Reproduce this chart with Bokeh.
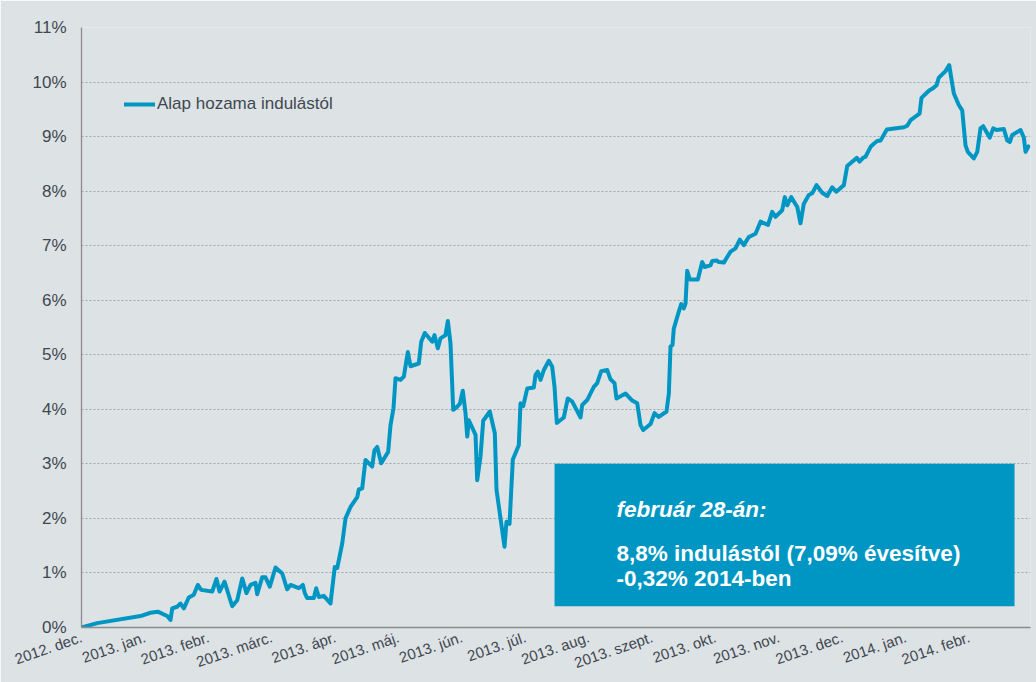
from bokeh.plotting import figure
from bokeh.models import Range1d, FixedTicker, BoxAnnotation, Label, Legend, LegendItem
from bokeh.embed import file_html
from bokeh.resources import INLINE

# ---------------- data ----------------
month_labels = ["2012. dec.", "2013. jan.", "2013. febr.", "2013. márc.", "2013. ápr.",
                "2013. máj.", "2013. jún.", "2013. júl.", "2013. aug.", "2013. szept.",
                "2013. okt.", "2013. nov.", "2013. dec.", "2014. jan.", "2014. febr."]

y_ticks = list(range(0, 12))

# months elapsed since the start (2012. dec.)
t_month = [0.0, 0.248, 0.931, 1.088, 1.203, 1.352, 1.404, 1.431, 1.509, 1.562,
           1.614, 1.692, 1.771, 1.834, 1.888, 2.062, 2.129, 2.177, 2.256, 2.377,
           2.456, 2.535, 2.602, 2.666, 2.744, 2.771, 2.850, 2.902, 2.970, 3.060,
           3.166, 3.244, 3.297, 3.427, 3.491, 3.522, 3.560, 3.664, 3.702, 3.743,
           3.822, 3.927, 3.995, 4.033, 4.112, 4.164, 4.243, 4.349, 4.374, 4.427,
           4.479, 4.585, 4.621, 4.664, 4.727, 4.837, 4.874, 4.921, 4.953, 5.032,
           5.084, 5.147, 5.189, 5.320, 5.358, 5.415, 5.532, 5.568, 5.620, 5.662,
           5.741, 5.778, 5.820, 5.863, 5.926, 5.967, 6.014, 6.057, 6.084, 6.109,
           6.215, 6.241, 6.293, 6.336, 6.440, 6.519, 6.546, 6.598, 6.672, 6.703,
           6.751, 6.803, 6.897, 6.924, 6.967, 7.030, 7.134, 7.161, 7.197, 7.240,
           7.292, 7.371, 7.424, 7.461, 7.497, 7.607, 7.670, 7.740, 7.871, 7.897,
           7.976, 8.080, 8.134, 8.197, 8.292, 8.344, 8.407, 8.438, 8.580, 8.686,
           8.765, 8.817, 8.860, 8.975, 9.038, 9.106, 9.227, 9.264, 9.290, 9.322,
           9.342, 9.421, 9.459, 9.500, 9.527, 9.553, 9.595, 9.721, 9.790, 9.826,
           9.921, 9.948, 10.016, 10.052, 10.131, 10.194, 10.237, 10.315, 10.383, 10.446,
           10.525, 10.631, 10.710, 10.828, 10.894, 10.946, 11.052, 11.093, 11.131, 11.194,
           11.289, 11.340, 11.393, 11.471, 11.525, 11.593, 11.683, 11.762, 11.840, 11.904,
           12.024, 12.077, 12.156, 12.229, 12.271, 12.334, 12.366, 12.450, 12.497, 12.550,
           12.603, 12.702, 12.970, 13.024, 13.076, 13.218, 13.249, 13.364, 13.423, 13.486,
           13.522, 13.628, 13.686, 13.733, 13.759, 13.837, 13.891, 13.943, 13.979, 14.074,
           14.128, 14.179, 14.222, 14.326, 14.380, 14.432, 14.547, 14.601, 14.642, 14.680,
           14.811, 14.863, 14.890, 14.937]

# cumulative return since launch, %
return_pct = [0.00, 0.08, 0.21, 0.27, 0.29, 0.21, 0.14, 0.35, 0.38, 0.44,
              0.35, 0.55, 0.60, 0.78, 0.69, 0.66, 0.89, 0.66, 0.84, 0.39,
              0.50, 0.90, 0.63, 0.78, 0.82, 0.61, 0.92, 0.92, 0.75, 1.10,
              0.99, 0.70, 0.78, 0.72, 0.78, 0.63, 0.54, 0.54, 0.72, 0.56,
              0.58, 0.44, 1.11, 1.09, 1.54, 2.00, 2.21, 2.39, 2.53, 2.55,
              3.07, 2.95, 3.25, 3.31, 3.01, 3.22, 3.71, 4.02, 4.57, 4.54,
              4.60, 5.05, 4.79, 4.84, 5.24, 5.40, 5.24, 5.36, 5.12, 5.30,
              5.36, 5.62, 5.21, 3.99, 4.05, 4.10, 4.34, 3.93, 3.50, 3.80,
              3.53, 2.70, 3.13, 3.79, 3.96, 3.56, 2.52, 2.09, 1.48, 1.94,
              1.90, 3.08, 3.34, 4.11, 4.06, 4.38, 4.40, 4.63, 4.69, 4.54,
              4.72, 4.89, 4.78, 4.41, 3.75, 3.85, 4.20, 4.14, 3.85, 4.08,
              4.17, 4.41, 4.48, 4.70, 4.72, 4.55, 4.48, 4.20, 4.29, 4.16,
              4.11, 3.71, 3.62, 3.73, 3.93, 3.86, 3.96, 4.29, 5.15, 5.18,
              5.48, 5.79, 5.93, 5.85, 5.94, 6.54, 6.38, 6.38, 6.70, 6.61,
              6.64, 6.72, 6.73, 6.70, 6.69, 6.81, 6.89, 6.95, 7.11, 7.01,
              7.16, 7.22, 7.44, 7.38, 7.62, 7.53, 7.65, 7.89, 7.74, 7.89,
              7.71, 7.41, 7.77, 7.93, 7.96, 8.11, 7.97, 7.91, 8.07, 7.99,
              8.11, 8.46, 8.54, 8.61, 8.54, 8.62, 8.63, 8.82, 8.87, 8.92,
              8.93, 9.13, 9.17, 9.20, 9.30, 9.42, 9.71, 9.84, 9.88, 9.94,
              10.08, 10.20, 10.31, 9.97, 9.79, 9.58, 9.48, 8.84, 8.72, 8.60,
              8.72, 9.15, 9.19, 8.98, 9.15, 9.12, 9.14, 8.93, 8.90, 9.03,
              9.12, 8.98, 8.72, 8.82]

series_name = "Alap hozama indulástól"
note_title = "február 28-án:"
note_lines = ["8,8% indulástól  (7,09% évesítve)", "-0,32% 2014-ben"]

# ---------------- style ----------------
BG = "#dde2e5"
BLUE = "#0096c4"
TEXT = "#3f4850"
FONT = "Liberation Sans"

p = figure(width=1036, height=682, output_backend="svg", toolbar_location=None,
           x_range=Range1d(0, 14.968), y_range=Range1d(0, 11),
           min_border_left=81, min_border_right=6, min_border_top=27, min_border_bottom=55,
           background_fill_color=BG, border_fill_color=BG, outline_line_color=None)

p.xgrid.visible = False
p.ygrid.grid_line_color = "#a3a6a8"
p.ygrid.grid_line_dash = "2 2"
p.ygrid.grid_line_width = 1

r = p.line(t_month, return_pct, line_color=BLUE, line_width=4,
           line_join="round", line_cap="round")

# axes
month_ticks = list(range(len(month_labels)))
p.xaxis.ticker = FixedTicker(ticks=month_ticks)
p.xaxis.major_label_overrides = {i: lab for i, lab in enumerate(month_labels)}
p.xaxis.major_label_orientation = 0.33
p.xaxis.major_label_text_font = FONT
p.xaxis.major_label_text_font_size = "15px"
p.xaxis.major_label_text_color = TEXT
p.xaxis.major_label_standoff = 9

p.yaxis.ticker = FixedTicker(ticks=y_ticks)
p.yaxis.major_label_overrides = {v: f"{v}%" for v in y_ticks}
p.yaxis.major_label_text_font = FONT
p.yaxis.major_label_text_font_size = "17px"
p.yaxis.major_label_text_color = TEXT
p.yaxis.major_label_standoff = 15

for ax in (p.xaxis[0], p.yaxis[0]):
    ax.axis_line_color = "#8a8c8e"
    ax.axis_line_width = 1.3
    ax.major_tick_line_color = None
    ax.minor_tick_line_color = None
    ax.major_tick_out = 0
    ax.major_tick_in = 0
    ax.minor_tick_out = 0
    ax.minor_tick_in = 0

# legend
legend = Legend(items=[LegendItem(label=series_name, renderers=[r])],
                location=(43, 513), glyph_width=31, glyph_height=20, label_height=20,
                label_standoff=2, padding=0, margin=0, border_line_color=None,
                background_fill_alpha=0, label_text_font=FONT,
                label_text_font_size="17px", label_text_color=TEXT)
p.add_layout(legend)

# annotation box
p.add_layout(BoxAnnotation(left=7.461, right=14.716, bottom=0.39, top=3.001,
                           fill_color=BLUE, fill_alpha=1.0, line_color=None))
p.add_layout(Label(x=8.438, y=2.158, text=note_title, text_font=FONT,
                   text_font_style="bold italic", text_font_size="22.5px",
                   text_color="white", text_baseline="alphabetic"))
for txt, yy in zip(note_lines, [1.362, 0.893]):
    p.add_layout(Label(x=8.438, y=yy, text=txt, text_font=FONT,
                       text_font_style="bold", text_font_size="22.5px",
                       text_color="white", text_baseline="alphabetic"))

open("out.html", "w").write(file_html(p, INLINE))
